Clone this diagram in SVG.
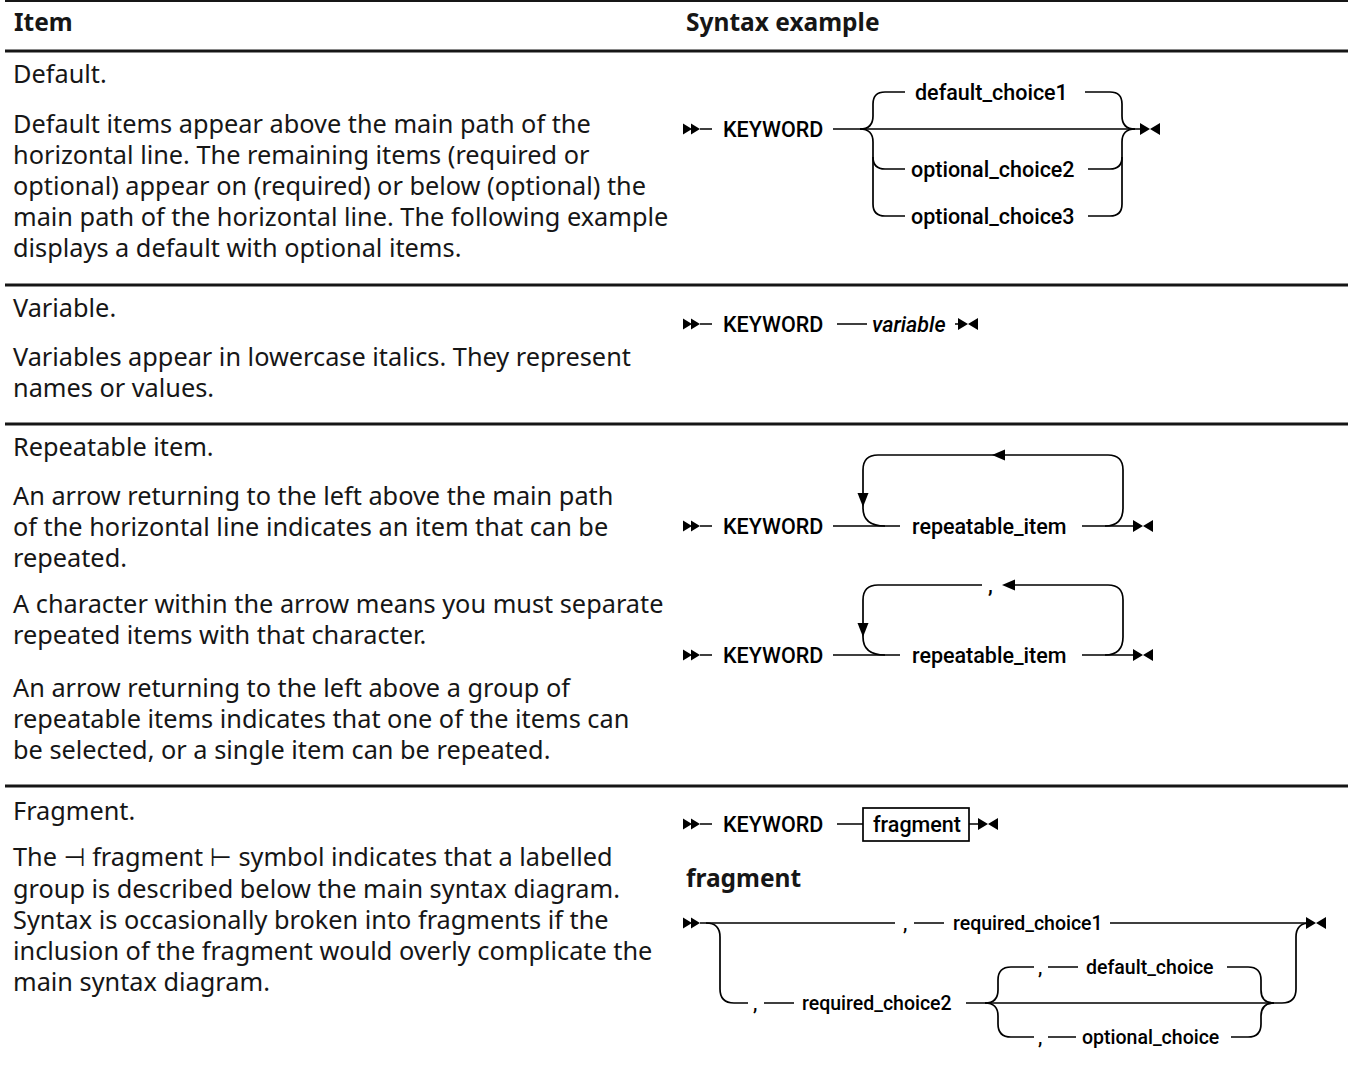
<svg xmlns="http://www.w3.org/2000/svg" xmlns:xlink="http://www.w3.org/1999/xlink" width="1348" height="1080" viewBox="0 0 1348 1080">
<style>
.bg{fill:#ffffff}
.rule{stroke:#161616;stroke-width:3;fill:none}
.hd{font-family:"Noto Sans","Liberation Sans",sans-serif;font-size:24.5px;font-weight:700;fill:#161616}
.tx{font-family:"Noto Sans","DejaVu Sans","Liberation Sans",sans-serif;font-size:25.3px;fill:#161616}
.dg{font-family:Roboto,"Liberation Sans",sans-serif;font-size:21.5px;font-weight:500;fill:#000}
.dg2{font-family:Roboto,"Liberation Sans",sans-serif;font-size:19.5px;font-weight:500;fill:#000}
.it{font-style:italic}
.ln{stroke:#000;stroke-width:1.7;fill:none}
.ah{fill:#000}
</style>
<defs>
<path id="startA" class="ah" d="M0,-5.5 L9,0 L0,5.5Z M8,-5.5 L17,0 L8,5.5Z"/>
<path id="endA" class="ah" d="M0,-6 L10,0 L0,6Z M20,-6 L10,0 L20,6Z"/>
</defs>
<rect class="bg" x="0" y="0" width="1348" height="1080"/>

<g id="table-rules">
<line class="rule" x1="5" y1="1" x2="1348" y2="1" style="stroke-width:2"/>
<line class="rule" x1="5" y1="51" x2="1348" y2="51"/>
<line class="rule" x1="5" y1="285" x2="1348" y2="285"/>
<line class="rule" x1="5" y1="424" x2="1348" y2="424"/>
<line class="rule" x1="5" y1="786" x2="1348" y2="786"/>
</g>

<g id="header">
<text class="hd" x="14" y="31">Item</text>
<text class="hd" x="686" y="31">Syntax example</text>
</g>

<g id="row-default-text" class="tx">
<text x="13" y="83">Default.</text>
<text x="13" y="133">Default items appear above the main path of the</text>
<text x="13" y="164">horizontal line. The remaining items (required or</text>
<text x="13" y="195">optional) appear on (required) or below (optional) the</text>
<text x="13" y="226">main path of the horizontal line. The following example</text>
<text x="13" y="257">displays a default with optional items.</text>
</g>

<g id="row-variable-text" class="tx">
<text x="13" y="317">Variable.</text>
<text x="13" y="366">Variables appear in lowercase italics. They represent</text>
<text x="13" y="397">names or values.</text>
</g>

<g id="row-repeat-text" class="tx">
<text x="13" y="456">Repeatable item.</text>
<text x="13" y="505">An arrow returning to the left above the main path</text>
<text x="13" y="536">of the horizontal line indicates an item that can be</text>
<text x="13" y="567">repeated.</text>
<text x="13" y="613">A character within the arrow means you must separate</text>
<text x="13" y="644">repeated items with that character.</text>
<text x="13" y="697">An arrow returning to the left above a group of</text>
<text x="13" y="728">repeatable items indicates that one of the items can</text>
<text x="13" y="759">be selected, or a single item can be repeated.</text>
</g>

<g id="row-fragment-text" class="tx">
<text x="13" y="820">Fragment.</text>
<text x="13" y="866">The ⊣ fragment ⊢ symbol indicates that a labelled</text>
<text x="13" y="898">group is described below the main syntax diagram.</text>
<text x="13" y="929">Syntax is occasionally broken into fragments if the</text>
<text x="13" y="960">inclusion of the fragment would overly complicate the</text>
<text x="13" y="991">main syntax diagram.</text>
</g>

<g id="connectors">
<!-- diagram 1: default -->
<path class="ln" d="M700,129 H712 M833,129 H1141"/>
<path class="ln" d="M860,129 Q873,129 873,116 V104 Q873,92 885,92 H905"/>
<path class="ln" d="M860,129 Q873,129 873,142 V204 Q873,216 885,216 H905"/>
<path class="ln" d="M873,157 Q873,169 885,169 H905"/>
<path class="ln" d="M1085,92 H1110 Q1122,92 1122,104 V116 Q1122,129 1135,129"/>
<path class="ln" d="M1088,216 H1110 Q1122,216 1122,204 V142 Q1122,129 1135,129"/>
<path class="ln" d="M1088,169 H1110 Q1122,169 1122,157"/>
<!-- diagram 2: variable -->
<path class="ln" d="M700,324 H712 M837,324 H867 M955,324 H962"/>
<!-- diagram 3: repeatable -->
<path class="ln" d="M700,526 H712 M833,526 H900 M1082,526 H1133"/>
<path class="ln" d="M885,526 Q863,526 863,508 V470 Q863,455 878,455 H1108 Q1123,455 1123,470 V508 Q1123,526 1105,526"/>
<path class="ah" d="M992,455 L1005,449.5 L1005,460.5Z"/>
<path class="ah" d="M857.5,493 L868.5,493 L863,507Z"/>
<!-- diagram 4: repeatable with separator -->
<path class="ln" d="M700,655 H712 M833,655 H900 M1082,655 H1133"/>
<path class="ln" d="M885,655 Q863,655 863,637 V600 Q863,585 878,585 H982"/>
<path class="ln" d="M1012,585 H1108 Q1123,585 1123,600 V637 Q1123,655 1105,655"/>
<path class="ah" d="M1002,585 L1015,579.5 L1015,590.5Z"/>
<path class="ah" d="M857.5,623 L868.5,623 L863,637Z"/>
<!-- diagram 5: fragment reference -->
<path class="ln" d="M700,824 H712 M837,824 H863 M969,824 H978"/>
<!-- fragment definition -->
<path class="ln" d="M700,923 H895 M914,923 H944 M1110,923 H1306"/>
<path class="ln" d="M706,923 Q720,923 720,937 V989 Q720,1003 734,1003 H748 M764,1003 H794"/>
<path class="ln" d="M966,1003 H1282 Q1296,1003 1296,989 V937 Q1296,923 1310,923"/>
<path class="ln" d="M985,1003 Q998,1003 998,990 V980 Q998,967 1011,967 H1034 M1048,967 H1078"/>
<path class="ln" d="M985,1003 Q998,1003 998,1016 V1024 Q998,1037 1011,1037 H1034 M1048,1037 H1076"/>
<path class="ln" d="M1227,967 H1248 Q1261,967 1261,980 V990 Q1261,1003 1274,1003"/>
<path class="ln" d="M1231,1037 H1248 Q1261,1037 1261,1024 V1016 Q1261,1003 1274,1003"/>
</g>

<g id="terminators">
<use href="#startA" x="683" y="129"/>
<use href="#endA" x="1140" y="129"/>
<use href="#startA" x="683" y="324"/>
<use href="#endA" x="958" y="324"/>
<use href="#startA" x="683" y="526"/>
<use href="#endA" x="1133" y="526"/>
<use href="#startA" x="683" y="655"/>
<use href="#endA" x="1133" y="655"/>
<use href="#startA" x="683" y="824"/>
<use href="#endA" x="978" y="824"/>
<use href="#startA" x="683" y="923"/>
<use href="#endA" x="1306" y="923"/>
</g>

<g id="diagram-default" class="dg">
<text x="723" y="137">KEYWORD</text>
<text x="915" y="100">default_choice1</text>
<text x="911" y="177">optional_choice2</text>
<text x="911" y="224">optional_choice3</text>
</g>

<g id="diagram-variable" class="dg">
<text x="723" y="332">KEYWORD</text>
<text class="it" x="872" y="332">variable</text>
</g>

<g id="diagram-repeat" class="dg">
<text x="723" y="534">KEYWORD</text>
<text x="912" y="534">repeatable_item</text>
</g>

<g id="diagram-repeat-sep" class="dg">
<text x="723" y="663">KEYWORD</text>
<text x="912" y="663">repeatable_item</text>
<text x="988" y="593">,</text>
</g>

<g id="diagram-fragment-ref" class="dg">
<text x="723" y="832">KEYWORD</text>
<rect x="863" y="808" width="106" height="33" fill="none" stroke="#000" stroke-width="1.7"/>
<text x="873" y="832">fragment</text>
</g>

<g id="fragment-heading">
<text class="hd" x="686" y="887">fragment</text>
</g>

<g id="fragment-def" class="dg2">
<text x="903" y="930">,</text>
<text x="953" y="930">required_choice1</text>
<text x="753" y="1010">,</text>
<text x="802" y="1010">required_choice2</text>
<text x="1038" y="974">,</text>
<text x="1086" y="974">default_choice</text>
<text x="1038" y="1044">,</text>
<text x="1082" y="1044">optional_choice</text>
</g>
</svg>
